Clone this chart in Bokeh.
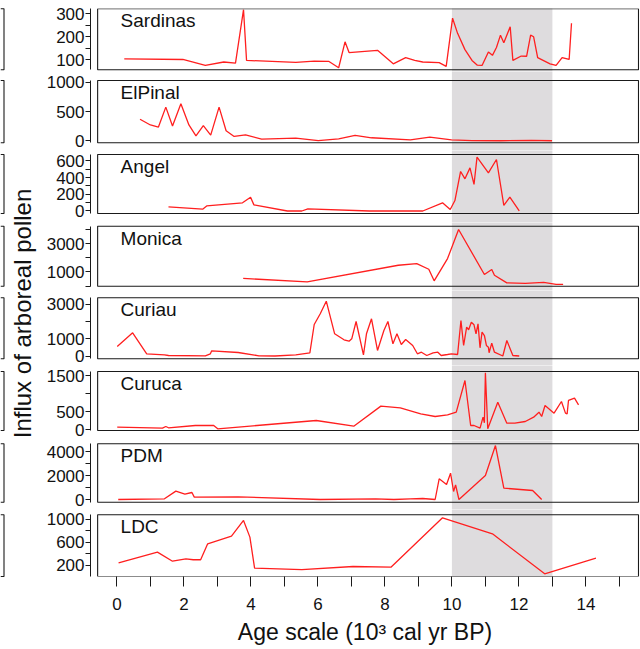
import numpy as np
from bokeh.plotting import figure
from bokeh.models import Range1d, FixedTicker, BoxAnnotation
from bokeh.layouts import row, column
from bokeh.embed import file_html
from bokeh.resources import INLINE
from bokeh.core.properties import value

FONT = "Liberation Sans"

# ---------------- data (age in 10^3 cal yr BP, influx values) ----------------
sardinas_age = [0.22, 1.97, 2.64, 3.19, 3.54, 3.78, 3.87, 5.34, 5.89, 6.32, 6.62, 6.81, 6.93, 7.78,
                8.25, 8.62, 8.89, 9.13, 9.62, 9.83, 10.02, 10.17, 10.39, 10.60, 10.76, 10.90, 11.09,
                11.21, 11.33, 11.45, 11.55, 11.74, 11.82, 12.07, 12.23, 12.35, 12.44, 12.56, 12.93,
                13.11, 13.29, 13.50, 13.57]
sardinas_val = [104, 101, 75, 90, 85, 318, 97, 88, 94, 93, 65, 178, 131, 141,
                82, 109, 97, 90, 87, 71, 281, 215, 144, 97, 76, 75, 134,
                119, 153, 207, 174, 244, 97, 116, 115, 207, 200, 109, 82,
                75, 109, 101, 259]

elpinal_age = [0.69, 1.00, 1.24, 1.46, 1.66, 1.91, 2.15, 2.36, 2.58, 2.80, 3.05, 3.26, 3.50, 3.84,
               4.32, 5.34, 6.01, 6.62, 7.11, 7.60, 8.76, 9.34, 9.99, 10.60, 11.46, 12.37, 12.99]
elpinal_val = [367, 270, 235, 575, 252, 632, 270, 85, 258, 97, 575, 172, 74, 102,
               28, 45, 2, 33, 91, 51, 16, 62, 16, 2, 0, 8, 0]

angel_age = [1.54, 2.56, 2.68, 3.75, 3.99, 4.09, 5.09, 5.52, 5.70, 7.54, 9.13, 9.72, 9.95, 10.09,
             10.26, 10.39, 10.54, 10.66, 10.75, 11.09, 11.33, 11.55, 11.73, 12.01]
angel_val = [50, 22, 61, 98, 165, 73, 0, 0, 26, 0, 0, 98, 18, 125,
             472, 384, 515, 317, 643, 456, 615, 66, 165, 0]

monica_age = [3.77, 5.68, 8.40, 8.95, 9.31, 9.47, 9.87, 10.20, 10.97, 11.19, 11.27, 11.64, 12.19,
              12.74, 13.11, 13.32]
monica_val = [535, 296, 1471, 1591, 1190, 366, 1943, 4006, 817, 1169, 767, 225, 183,
              253, 113, 113]

curiau_age = [0.01, 0.47, 0.89, 1.42, 1.54, 2.64, 2.79, 2.83, 3.62, 4.24, 4.72, 5.34, 5.76, 5.89,
              6.07, 6.25, 6.50, 6.78, 6.93, 7.01, 7.14, 7.36, 7.45, 7.60, 7.78, 7.97, 8.09, 8.24,
              8.36, 8.49, 8.62, 8.83, 8.97, 9.09, 9.25, 9.44, 9.58, 9.68, 9.87, 9.99, 10.17,
              10.27, 10.35, 10.44, 10.50, 10.58, 10.66, 10.72, 10.78, 10.84, 10.90, 10.97, 11.03,
              11.09, 11.11, 11.19, 11.27, 11.52, 11.64, 11.82, 12.01]
curiau_val = [553, 1351, 128, 69, 29, 11, 128, 303, 203, 11, 0, 69, 187, 1835,
              2458, 3193, 1293, 944, 862, 1002, 2010, 69, 1293, 2167, 321, 1485, 2010, 710,
              1293, 670, 962, 612, 128, 221, 29, 187, 221, 29, 87, 128, 87,
              2068, 612, 1677, 1527, 1969, 1817, 1293, 1876, 478, 1386, 1194, 612,
              513, 187, 746, 221, 0, 902, 29, 0]

curuca_age = [0.01, 1.36, 1.46, 1.54, 2.34, 2.89, 3.01, 5.95, 7.07, 7.88, 8.46, 9.07, 9.50, 9.87,
              10.13, 10.39, 10.56, 10.66, 10.84, 10.93, 10.97, 11.00, 11.07, 11.37, 11.64, 11.88,
              12.19, 12.44, 12.60, 12.68, 12.78, 13.05, 13.27, 13.39, 13.44, 13.48, 13.66, 13.78]
curuca_val = [73, 45, 92, 56, 120, 120, 28, 259, 101, 659, 613, 445, 370, 417,
              491, 1375, 120, 120, 45, 352, 196, 1592, 28, 770, 185, 185,
              231, 352, 491, 370, 678, 464, 789, 464, 445, 817, 881, 696]

pdm_age = [0.04, 1.42, 1.76, 2.03, 2.24, 2.31, 3.62, 6.07, 7.72, 8.27, 8.76, 9.13, 9.50, 9.62,
           9.84, 9.96, 10.05, 10.11, 10.21, 11.00, 11.30, 11.55, 12.41, 12.68]
pdm_val = [0, 56, 695, 445, 584, 195, 222, 0, 56, 0, 56, 83, 0, 1722,
           1251, 2194, 667, 1223, 1, 2000, 4500, 944, 750, 0]

ldc_age = [0.05, 1.21, 1.66, 2.06, 2.28, 2.50, 2.71, 3.42, 3.78, 3.97, 4.11, 5.52, 7.05, 8.18,
           9.72, 11.21, 12.77, 14.30]
ldc_val = [242, 428, 270, 312, 295, 295, 575, 707, 983, 691, 147, 124, 177, 165,
           1030, 749, 50, 323]

site_names = ["Sardinas", "ElPinal", "Angel", "Monica", "Curiau", "Curuca", "PDM", "LDC"]
site_ages = [sardinas_age, elpinal_age, angel_age, monica_age, curiau_age, curuca_age, pdm_age, ldc_age]
site_vals = [sardinas_val, elpinal_val, angel_val, monica_val, curiau_val, curuca_val, pdm_val, ldc_val]

# value range covered by each panel box (bottom, top)
box_value_range = [(56, 322), (-35, 1030), (-30, 675), (-14, 4239),
                   (-163, 3390), (-20, 1625), (-225, 4642), (2, 1082)]
y_major_ticks = [[100, 200, 300], [0, 500, 1000], [0, 200, 400, 600], [1000, 3000],
                 [0, 1000, 3000], [0, 500, 1500], [0, 2000, 4000], [200, 600, 1000]]
y_minor_ticks = [[150, 250], [], [100, 300, 500], [0, 2000, 4000],
                 [2000], [1000], [1000, 3000], [400, 800]]

x_major_ticks = [0, 2, 4, 6, 8, 10, 12, 14]
x_minor_ticks = [1, 3, 5, 7, 9, 11, 13, 15]
band_start, band_end = 10, 13          # shaded interval
box_x = (-0.575, 15.57)                  # horizontal extent of each panel box

# ---------------- layout (pixels) ----------------
W = 640
LEFT_W = 40
splits = [0, 71, 150, 222, 290, 365, 440, 509, 649]
fig_heights = [splits[i + 1] - splits[i] for i in range(8)]
frame_tops = [8, 71, 150, 222, 290, 365, 440, 509]
frame_bots = [71, 150, 222, 290, 365, 440, 509, 576]
box_tops = [8.3, 80, 154, 225.7, 297.3, 371, 443.3, 514.3]
box_bots = [69.3, 142.3, 213, 285.7, 358.3, 430, 501.7, 576]

RED = "#ff1f1f"
BAND = "#dedcde"
INK = "#1a1a1a"

xr = Range1d(-0.788, 15.6)
panels = []
for i, name in enumerate(site_names):
    vb, vt = box_value_range[i]
    k = (vt - vb) / (box_bots[i] - box_tops[i])
    y_start = vb - (frame_bots[i] - box_bots[i]) * k
    y_end = vt + (box_tops[i] - frame_tops[i]) * k
    last = (i == len(site_names) - 1)
    mt = frame_tops[i] - splits[i]
    mb = fig_heights[i] - mt - (frame_bots[i] - frame_tops[i])
    p = figure(width=W - LEFT_W, height=fig_heights[i], x_range=xr,
               y_range=Range1d(y_start, y_end), output_backend="svg",
               toolbar_location=None, title=None,
               min_border_left=50, min_border_right=1,
               min_border_top=mt, min_border_bottom=mb,
               x_axis_location=("below" if last else None), y_axis_location="left",
               outline_line_color=None, background_fill_color="white",
               border_fill_color="white")
    p.grid.visible = False

    # shaded interval: a quad that overshoots the frame so adjacent panels join seamlessly
    span = y_end - y_start
    p.quad(left=[band_start], right=[band_end], bottom=[y_start - span], top=[y_end + span],
           fill_color=BAND, fill_alpha=1.0, line_color=None, level="underlay")
    frame_box = BoxAnnotation(left=box_x[0], right=box_x[1], bottom=vb, top=vt,
                              fill_alpha=0, line_color=INK, line_alpha=1.0, line_width=1.1)
    p.add_layout(frame_box)

    p.line(site_ages[i], site_vals[i], line_color=RED, line_width=1.3)

    p.text(x=[0.11], y=[vt - 1.5 * k], text=[name], text_font=value(FONT),
           text_font_size="19px", text_baseline="top", text_align="left", text_color="#111111")

    ya = p.yaxis[0]
    ya.ticker = FixedTicker(ticks=y_major_ticks[i], minor_ticks=y_minor_ticks[i])
    ya.bounds = (vb, vt)
    ya.axis_line_color = INK
    ya.major_tick_line_color = INK
    ya.minor_tick_line_color = INK
    ya.major_tick_out = 5
    ya.major_tick_in = 0
    ya.minor_tick_out = 5
    ya.minor_tick_in = 0
    ya.major_label_standoff = 1
    ya.major_label_text_font = FONT
    ya.major_label_text_font_size = "17px"
    ya.major_label_text_color = "#111111"

    if last:
        xa = p.xaxis[0]
        xa.ticker = FixedTicker(ticks=x_major_ticks, minor_ticks=x_minor_ticks)
        xa.axis_line_color = None
        xa.major_tick_line_color = INK
        xa.minor_tick_line_color = INK
        xa.major_tick_out = 10
        xa.major_tick_in = 0
        xa.minor_tick_out = 10
        xa.minor_tick_in = 0
        xa.major_label_standoff = 11
        xa.major_label_text_font = FONT
        xa.major_label_text_font_size = "17px"
        xa.major_label_text_color = "#111111"
        xa.axis_label = "Age scale (10³ cal yr BP)"
        xa.axis_label_text_font = FONT
        xa.axis_label_text_font_size = "23px"
        xa.axis_label_text_font_style = "normal"
        xa.axis_label_text_color = "#111111"
        xa.axis_label_standoff = 6
    panels.append(p)

# left strip: shared y-axis title and cut-off neighbouring box edges
left = figure(width=LEFT_W, height=649, x_range=Range1d(0, LEFT_W), y_range=Range1d(0, 649),
              output_backend="svg", toolbar_location=None, title=None, min_border=0,
              x_axis_location=None, y_axis_location=None, outline_line_color=None,
              background_fill_color="white", border_fill_color="white")
left.grid.visible = False
left.multi_line(xs=[[0, 3.5, 3.5, 0] for _ in box_tops],
                ys=[[649 - t, 649 - t, 649 - b, 649 - b] for t, b in zip(box_tops, box_bots)],
                line_color=INK, line_width=1.1)
left.text(x=[22], y=[649 - 313], text=["Influx of arboreal pollen"], angle=np.pi / 2,
          text_align="center", text_baseline="middle", text_font=value(FONT),
          text_font_size="24px", text_color="#111111")

layout = row(left, column(*panels, spacing=0), spacing=0)
open("out.html", "w").write(file_html(layout, INLINE))
